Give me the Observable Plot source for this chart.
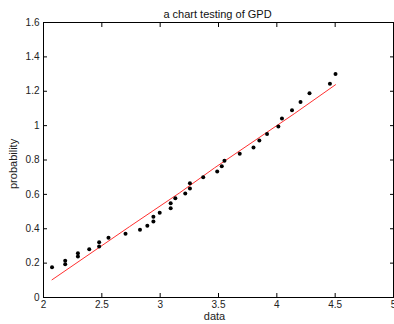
<!DOCTYPE html>
<html>
<head>
<meta charset="utf-8">
<script src="https://cdn.jsdelivr.net/npm/d3@7"></script>
<script src="https://cdn.jsdelivr.net/npm/@observablehq/plot@0.6"></script>
<style>
  html, body { margin: 0; padding: 0; background: #fff; }
  #chart svg { display: block; }
</style>
</head>
<body>
<div id="chart"></div>
<script>
const dataX = [2.073, 2.186, 2.186, 2.295, 2.295, 2.392, 2.477, 2.477, 2.557, 2.703,
               2.827, 2.890, 2.942, 2.942, 2.996, 3.090, 3.090, 3.130, 3.215, 3.255,
               3.255, 3.369, 3.489, 3.528, 3.551, 3.682, 3.800, 3.850, 3.916, 4.013,
               4.044, 4.130, 4.203, 4.280, 4.455, 4.503];
const dataY = [0.176, 0.214, 0.194, 0.258, 0.239, 0.281, 0.322, 0.297, 0.347, 0.371,
               0.394, 0.417, 0.442, 0.470, 0.493, 0.520, 0.549, 0.578, 0.605, 0.634,
               0.665, 0.700, 0.733, 0.764, 0.796, 0.836, 0.873, 0.914, 0.951, 0.995,
               1.042, 1.090, 1.137, 1.189, 1.244, 1.300];
const fitX = [2.073, 2.739, 3.167, 3.468, 4.149, 4.503];
const fitY = [0.103, 0.413, 0.609, 0.755, 1.069, 1.238];
const xTicks = [2, 2.5, 3, 3.5, 4, 4.5, 5];
const yTicks = [0, 0.2, 0.4, 0.6, 0.8, 1, 1.2, 1.4, 1.6];
const titleText = "a chart testing of GPD";
const xLabel = "data";
const yLabel = "probability";

const points = dataX.map((x, i) => ({x, y: dataY[i]}));
const fit = fitX.map((x, i) => ({x, y: fitY[i]}));

const font = "Liberation Sans, Arial, sans-serif";

const chart = Plot.plot({
  width: 394,
  height: 324,
  marginLeft: 43,
  marginRight: 1,
  marginTop: 22,
  marginBottom: 27,
  style: {fontFamily: font, fontSize: "10px", color: "#222", background: "#fff"},
  x: {domain: [2, 5]},
  y: {domain: [0, 1.6]},
  marks: [
    Plot.frame({stroke: "#000", strokeWidth: 1}),
    Plot.axisX(xTicks, {anchor: "bottom", tickSize: -4, tickPadding: 7, label: null, stroke: "#000", fill: "#222", fontSize: 10, tickFormat: d => String(d)}),
    Plot.axisX(xTicks, {anchor: "top", tickSize: -4, tickFormat: () => "", label: null, stroke: "#000"}),
    Plot.axisY(yTicks, {anchor: "left", tickSize: -4, tickPadding: 8, label: null, stroke: "#000", fill: "#222", fontSize: 10, tickFormat: d => String(d)}),
    Plot.axisY(yTicks, {anchor: "right", tickSize: -4, tickFormat: () => "", label: null, stroke: "#000"}),
    Plot.line(fit, {x: "x", y: "y", stroke: "#ff3030", strokeWidth: 1}),
    Plot.dot(points, {x: "x", y: "y", r: 2, fill: "#000", stroke: "none"}),
    Plot.text([titleText], {frameAnchor: "top", dy: -12, dx: -1, fontSize: 11, fill: "#111"}),
    Plot.text([xLabel], {frameAnchor: "bottom", dy: 22, dx: -4, fontSize: 11, fill: "#222"}),
    Plot.text([yLabel], {frameAnchor: "left", dx: -30, dy: 29, rotate: -90, fontSize: 11, fill: "#222"})
  ]
});
document.getElementById("chart").appendChild(chart);
</script>
</body>
</html>
